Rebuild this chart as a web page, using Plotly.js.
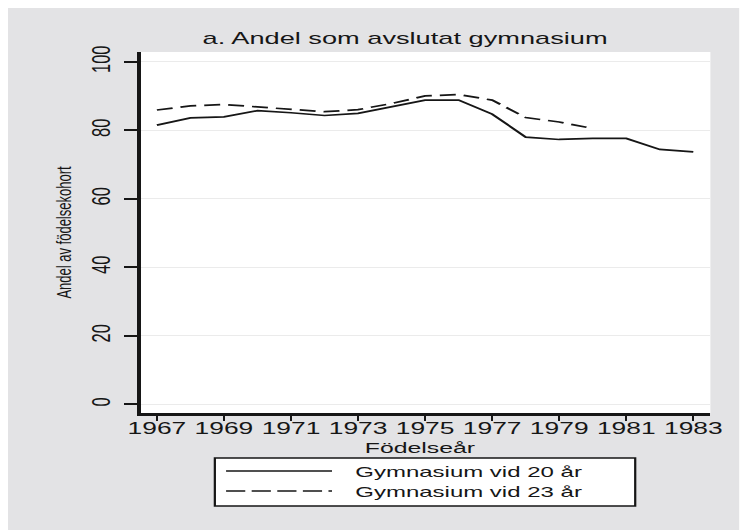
<!DOCTYPE html>
<html>
<head>
<meta charset="utf-8">
<script src="https://cdn.plot.ly/plotly-3.0.1.min.js"></script>
<style>
  html, body { margin:0; padding:0; background:#ffffff; overflow:hidden; }
  /* the source picture is stretched sideways, so the chart is drawn narrow and scaled in x */
  #myDiv { position:absolute; left:8px; top:8px; width:457px; height:522px;
           transform:scaleX(1.6); transform-origin:0 0; }
</style>
</head>
<body>
<div id="myDiv"></div>
<script>
var years = [1967,1968,1969,1970,1971,1972,1973,1974,1975,1976,1977,1978,1979,1980,1981,1982,1983];
var gymn20 = [81.5,83.6,83.9,85.7,85.1,84.3,84.9,86.8,88.8,88.8,84.7,78.0,77.3,77.6,77.6,74.4,73.7];
var yearsAt23 = [1967,1968,1969,1970,1971,1972,1973,1974,1975,1976,1977,1978,1979,1980];
var gymn23 = [85.9,87.1,87.5,86.8,86.3,85.4,86.0,87.8,90.0,90.4,88.8,83.7,82.4,80.5];
var seriesNames = ['Gymnasium vid 20 år','Gymnasium vid 23 år'];
var seriesDash = ['solid','10px,5px'];
var xTicks = [1967,1969,1971,1973,1975,1977,1979,1981,1983];
var yTicks = [0,20,40,60,80,100];

var ink = '#161616';
var fnt = 'Liberation Sans, Arial, sans-serif';

var tr1 = {
  x: years, y: gymn20, type:'scatter', mode:'lines', name: seriesNames[0],
  line: {color: ink, width: 1.7, dash: seriesDash[0]}
};
var tr2 = {
  x: yearsAt23, y: gymn23, type:'scatter', mode:'lines', name: seriesNames[1],
  line: {color: ink, width: 1.7, dash: seriesDash[1]}
};

// hand made legend box under the axis, like the Stata one
var shapes = [{
  type:'rect', xref:'paper', yref:'paper', x0:0.130, x1:0.868, y0:-0.2576, y1:-0.1247,
  fillcolor:'white', line:{color: ink, width: 1.4}
}];
var annos = [];
var rowY = [-0.1607, -0.2161];
for (var i=0;i<seriesNames.length;i++){
  shapes.push({type:'line', xref:'paper', yref:'paper', x0:0.1497, x1:0.3357, y0:rowY[i], y1:rowY[i],
    line:{color: ink, width: 1.3, dash: i==0 ? 'solid' : '12px,4px'}});
  annos.push({xref:'paper', yref:'paper', x:0.372, y:rowY[i], xanchor:'left', yanchor:'middle',
    text: seriesNames[i], showarrow:false, font:{family: fnt, size: 15, color: ink}});
}
// x axis title
annos.push({xref:'paper', yref:'paper', x:0.49, y:-0.0942, xanchor:'center', yanchor:'middle',
  text:'Födelseår', showarrow:false, font:{family: fnt, size: 15.5, color: ink}});

var layout = {
  width: 457, height: 522,
  margin: {l:83, r:18, t:44, b:117},
  paper_bgcolor: '#e3e3e5',
  plot_bgcolor: '#ffffff',
  showlegend: false,
  title: {text:'a. Andel som avslutat gymnasium', x:0.543, xref:'container', xanchor:'center',
          y:0.9425, yref:'container', yanchor:'middle',
          font:{family: fnt, size: 17, color: ink}},
  xaxis: {
    range: [1966.52, 1983.51], tickvals: xTicks, ticktext: xTicks.map(String),
    showline: true, linecolor: ink, linewidth: 2.5, mirror: false,
    ticks: 'outside', ticklen: 5, tickwidth: 1.3, tickcolor: ink,
    ticklabelstandoff: -6,
    tickfont: {family: fnt, size: 16.5, color: ink},
    showgrid: false, zeroline: false
  },
  yaxis: {
    range: [-2.54, 102.83], tickvals: yTicks,
    showline: true, linecolor: ink, linewidth: 2.5,
    ticks: 'outside', ticklen: 8, tickwidth: 2, tickcolor: ink,
    tickangle: -90, ticklabelstandoff: 2,
    tickfont: {family: fnt, size: 16.5, color: ink},
    showgrid: true, gridcolor: '#ebebeb', gridwidth: 1, zeroline: false,
    title: {text:'Andel av födelsekohort', standoff: 6, font:{family: fnt, size: 13, color: ink}}
  },
  shapes: shapes,
  annotations: annos
};

Plotly.newPlot('myDiv', [tr1, tr2], layout, {displayModeBar: false, staticPlot: true});
</script>
</body>
</html>
